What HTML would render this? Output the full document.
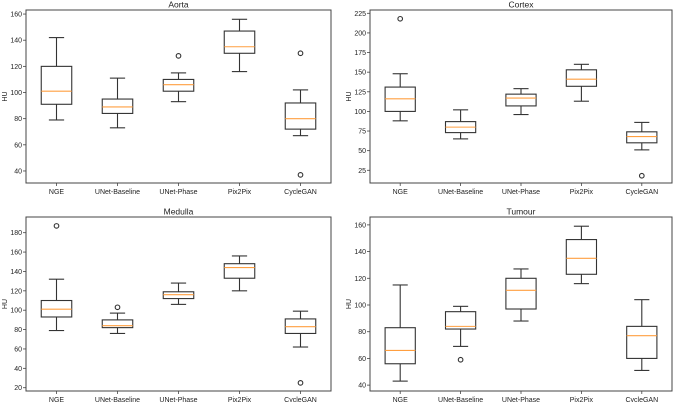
<!DOCTYPE html>
<html><head><meta charset="utf-8"><style>
body{margin:0;background:#fff;}
svg{display:block;font-family:"Liberation Sans",sans-serif;}
</style></head><body>
<svg id="chart" width="677" height="402" viewBox="0 0 677 402"></svg>
<script>
const categories = ["NGE","UNet-Baseline","UNet-Phase","Pix2Pix","CycleGAN"];
const panelTitles = ["Aorta","Cortex","Medulla","Tumour"];
// [whiskerLow, q1, median, q3, whiskerHigh]
const aortaStats = [[79,91,101,120,142],[73,84,89,95,111],[93,101,106,110,115],[116,130,135,147,156],[67,72,80,92,102]];
const aortaOutliers = [[],[],[128],[],[130,37]];
const cortexStats = [[88,100,116,131,148],[65,73,80,87,102],[96,107,117,122,129],[113,132,141,153,160],[51,60,68,74,86]];
const cortexOutliers = [[218],[],[],[],[18]];
const medullaStats = [[79,93,101,110,132],[76,82,84,90,97],[106,112,116,119,128],[120,133,144,148,156],[62,76,83,91,99]];
const medullaOutliers = [[187],[103],[],[],[25]];
const tumourStats = [[43,56,66,83,115],[69,82,84,95,99],[88,97,111,120,127],[116,123,135,149,159],[51,60,77,84,104]];
const tumourOutliers = [[],[59],[],[],[]];
const aortaTicks = [40,60,80,100,120,140,160];
const cortexTicks = [25,50,75,100,125,150,175,200,225];
const medullaTicks = [20,40,60,80,100,120,140,160,180];
const tumourTicks = [40,60,80,100,120,140,160];

const panels = [
 {title:panelTitles[0],stats:aortaStats,out:aortaOutliers,ticks:aortaTicks,x0:26,x1:331,y0:10,y1:183,d0:30.8,d1:163.1},
 {title:panelTitles[1],stats:cortexStats,out:cortexOutliers,ticks:cortexTicks,x0:370,x1:672,y0:10,y1:183,d0:8.8,d1:229.2},
 {title:panelTitles[2],stats:medullaStats,out:medullaOutliers,ticks:medullaTicks,x0:26,x1:331,y0:217,y1:391,d0:16.6,d1:196.2},
 {title:panelTitles[3],stats:tumourStats,out:tumourOutliers,ticks:tumourTicks,x0:370,x1:672,y0:217,y1:391,d0:35.6,d1:165.9}
];
const svg=document.getElementById('chart');
const NS='http://www.w3.org/2000/svg';
function mk(tag,attrs,parent){const e=document.createElementNS(NS,tag);for(const k in attrs)e.setAttribute(k,attrs[k]);parent.appendChild(e);return e;}
panels.forEach((p)=>{
 const g=mk('g',{},svg);
 
 
 const y=v=>p.y1-(v-p.d0)/(p.d1-p.d0)*(p.y1-p.y0);
 const n=categories.length, w=(p.x1-p.x0);
 const x=i=>p.x0+w*(i+1)/(n+1)*0+ p.x0*0 + (p.x0 + w*(0.5+i)/(n) ) - p.x0 + 0;
 const fr=mk('rect',{x:p.x0,y:p.y0,width:w,height:p.y1-p.y0,fill:'none',stroke:'#444','stroke-width':1},g);
 
 
 const t=mk('text',{x:(p.x0+p.x1)/2,y:p.y0-2.5,'text-anchor':'middle','font-size':8.5,fill:'#222'},g);
 t.textContent=p.title;
 
 
 const yl=mk('text',{x:0,y:0,'text-anchor':'middle','font-size':7,fill:'#222',transform:`translate(${p.x0-19},${(p.y0+p.y1)/2}) rotate(-90)`},g);
 yl.textContent='HU';
 
 
 p.ticks.forEach(tv=>{
  const yy=y(tv);
  mk('line',{x1:p.x0-3,x2:p.x0,y1:yy,y2:yy,stroke:'#444','stroke-width':0.8},g);
  const tl=mk('text',{x:p.x0-4,y:yy+2.5,'text-anchor':'end','font-size':7,fill:'#222'},g);
  tl.textContent=tv;
  
  
 });
 const bw=w/n*0.5;
 categories.forEach((c,i)=>{
  const cx=x(i);
  mk('line',{x1:cx,x2:cx,y1:p.y1,y2:p.y1+3,stroke:'#444','stroke-width':0.8},g);
  const xl=mk('text',{x:cx,y:p.y1+11,'text-anchor':'middle','font-size':7,fill:'#222'},g);
  xl.textContent=c;
  
  
  const s=p.stats[i];
  const bg=mk('g',{stroke:'#333','stroke-width':1.1,fill:'none'},g);
  
  
  mk('line',{x1:cx,x2:cx,y1:y(s[0]),y2:y(s[1])},bg);
  mk('line',{x1:cx,x2:cx,y1:y(s[3]),y2:y(s[4])},bg);
  mk('line',{x1:cx-bw/4,x2:cx+bw/4,y1:y(s[0]),y2:y(s[0])},bg);
  mk('line',{x1:cx-bw/4,x2:cx+bw/4,y1:y(s[4]),y2:y(s[4])},bg);
  mk('rect',{x:cx-bw/2,y:y(s[3]),width:bw,height:y(s[1])-y(s[3])},bg);
  mk('line',{x1:cx-bw/2,x2:cx+bw/2,y1:y(s[2]),y2:y(s[2]),stroke:'#ff9f40'},bg);
  p.out[i].forEach(o=>{
   const oc=mk('circle',{cx:cx,cy:y(o),r:2.3},bg);
   
   
  });
 });
});
</script>
</body></html>
